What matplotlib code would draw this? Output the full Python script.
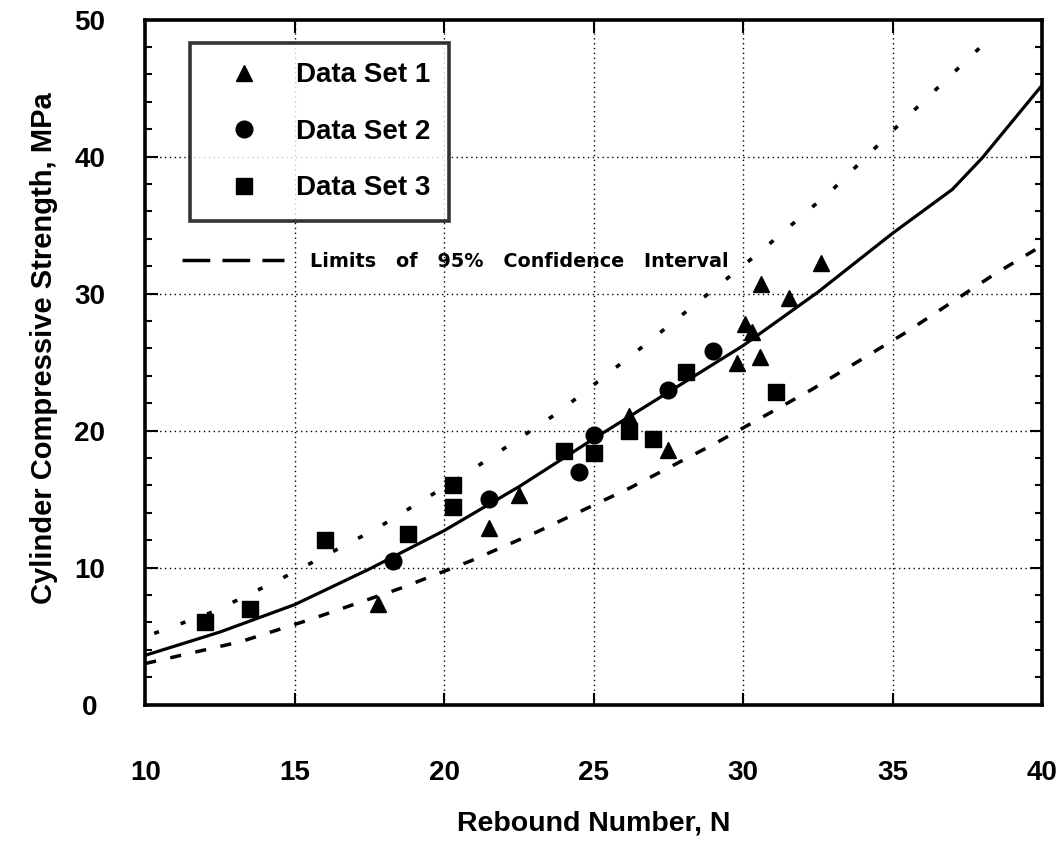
import matplotlib
matplotlib.use("Agg")
import matplotlib.pyplot as plt
from matplotlib.lines import Line2D
from matplotlib.ticker import MultipleLocator

# data
set1_x = [17.8, 21.5, 22.5, 26.2, 27.5, 29.8, 30.55, 30.05, 30.3, 30.6, 31.55, 32.6]
set1_y = [7.35, 12.9, 15.3, 21.1, 18.6, 24.9, 25.4, 27.8, 27.2, 30.7, 29.7, 32.2]

set2_x = [18.3, 21.5, 24.5, 25.0, 27.5, 29.0]
set2_y = [10.45, 15.0, 17.0, 19.7, 23.0, 25.8]

set3_x = [12.0, 13.5, 16.0, 18.8, 20.3, 20.3, 24.0, 25.0, 26.2, 27.0, 28.1, 31.1]
set3_y = [6.0, 7.0, 12.0, 12.45, 14.4, 16.0, 18.5, 18.4, 20.0, 19.4, 24.3, 22.8]

fit_x = [10, 12.5, 15, 17.5, 20, 22.5, 25, 27.5, 30, 32.5, 35, 37, 38, 40]
fit_y = [3.6, 5.3, 7.3, 9.9, 12.7, 15.9, 19.4, 22.8, 26.2, 30.1, 34.4, 37.6, 39.9, 45.2]

upper_x = [10.3, 12.3, 14.6, 17.7, 20.7, 23.8, 26.8, 30.6, 33.0, 35.2, 37.9]
upper_y = [5.2, 6.8, 9.25, 12.8, 16.8, 21.3, 26.4, 33.1, 37.6, 42.3, 47.9]

lower_x = [10.0, 13.2, 15.5, 18.55, 20.9, 23.1, 26.2, 29.1, 32.3, 35.4, 38.4, 40.0]
lower_y = [3.0, 4.6, 6.2, 8.5, 10.5, 12.6, 15.8, 19.1, 23.0, 27.1, 31.4, 33.5]

labels = ["Data Set 1", "Data Set 2", "Data Set 3"]
ci_label = "Limits   of   95%   Confidence   Interval"

plt.rcParams.update({
    "font.family": ["Liberation Sans", "DejaVu Sans"],
    "font.weight": "bold",
    "xtick.direction": "in",
    "ytick.direction": "in",
})

fig = plt.figure(figsize=(10.6, 8.5), dpi=100)
ax = fig.add_axes([0.137, 0.171, 0.846, 0.806])

ax.plot(fit_x, fit_y, "-", color="black", lw=2.3, zorder=3)
ax.plot(upper_x, upper_y, color="black", lw=2.6, ls=(0, (1.4, 6.4)), zorder=3)
ax.plot(lower_x, lower_y, color="black", lw=2.5, ls=(0, (3.2, 4.2)), zorder=3)

h1, = ax.plot(set1_x, set1_y, "^", color="black", ms=11.5, ls="none", zorder=4)
h2, = ax.plot(set2_x, set2_y, "o", color="black", ms=12, ls="none", zorder=4)
h3, = ax.plot(set3_x, set3_y, "s", color="black", ms=11, ls="none", zorder=4)

ax.set_xlim(10, 40)
ax.set_ylim(0, 50)
ax.xaxis.set_major_locator(MultipleLocator(5))
ax.yaxis.set_major_locator(MultipleLocator(10))
ax.yaxis.set_minor_locator(MultipleLocator(2))
ax.grid(True, which="major", color="black", lw=1.0, ls=(0, (1, 2.5)))
ax.tick_params(which="both", top=True, right=True, width=1.5)
ax.tick_params(which="major", length=9)
ax.tick_params(which="minor", length=5)
ax.tick_params(axis="x", pad=40, labelsize=20)
ax.tick_params(axis="y", pad=40, labelsize=20)
for lbl in ax.get_yticklabels():
    lbl.set_ha("center")
for sp in ax.spines.values():
    sp.set_linewidth(2.6)

ax.set_xlabel("Rebound Number, N", fontsize=20.5, fontweight="bold")
ax.xaxis.set_label_coords(0.5, -0.155)
ax.set_ylabel("Cylinder Compressive Strength, MPa", fontsize=21, fontweight="bold")
ax.yaxis.set_label_coords(-0.097, 0.52)

leg1 = ax.legend([h1, h2, h3], labels, loc="upper left", bbox_to_anchor=(0.05, 0.966),
                 fontsize=20, frameon=True, fancybox=False, edgecolor="black",
                 handlelength=2.5, handletextpad=0.6, labelspacing=1.1, borderpad=0.7,
                 borderaxespad=0)
leg1.get_frame().set_linewidth(2.6)
leg1.set_zorder(5)
ax.add_artist(leg1)

ci_handle = Line2D([], [], color="black", lw=2.5, ls=(0, (8, 3.5)))
leg2 = ax.legend([ci_handle], [ci_label], loc="center left", bbox_to_anchor=(0.041, 0.647),
                 frameon=False, handlelength=5.3, handletextpad=1.4, borderpad=0,
                 borderaxespad=0, prop={"family": "DejaVu Sans", "weight": "bold", "size": 13.8})

fig.savefig("out.png", dpi=100, facecolor="white")
